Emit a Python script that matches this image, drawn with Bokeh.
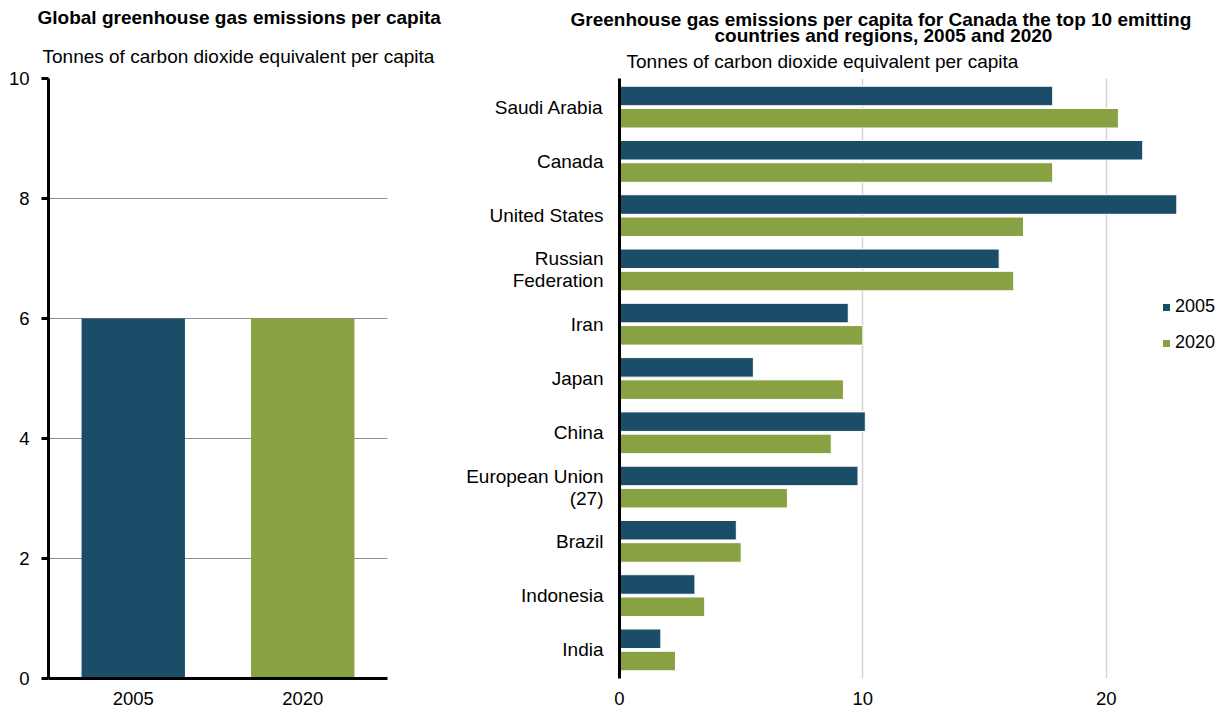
from bokeh.plotting import figure
from bokeh.layouts import row
from bokeh.models import Title, FactorRange, Range1d, FixedTicker, ColumnDataSource
from bokeh.transform import dodge
from bokeh.embed import file_html
from bokeh.resources import INLINE

FONT = "Liberation Sans"
BLUE = "#1B4D68"
GREEN = "#88A243"

# ---- data ----
years = ["2005", "2020"]
global_values = [6.0, 6.0]

countries = ["Saudi Arabia", "Canada", "United States", "Russian\nFederation", "Iran",
             "Japan", "China", "European Union\n(27)", "Brazil", "Indonesia", "India"]
v2005 = [17.8, 21.5, 22.9, 15.6, 9.4, 5.5, 10.1, 9.8, 4.8, 3.1, 1.7]
v2020 = [20.5, 17.8, 16.6, 16.2, 10.0, 9.2, 8.7, 6.9, 5.0, 3.5, 2.3]

left_ticks = [0, 2, 4, 6, 8, 10]
right_ticks = [0, 10, 20]

# ---- left chart ----
p1 = figure(width=455, height=713, x_range=FactorRange(*years, range_padding=0),
            y_range=Range1d(0, 10), output_backend="svg", toolbar_location=None,
            min_border_left=48, min_border_right=68, min_border_bottom=35, min_border_top=0)
p1.outline_line_color = None
p1.vbar(x=years, top=global_values, width=0.61, color=[BLUE, GREEN], line_color=None)
p1.xgrid.grid_line_color = None
p1.ygrid.grid_line_color = "#8c8c8c"
p1.ygrid.grid_line_width = 1
p1.yaxis.ticker = FixedTicker(ticks=left_ticks)
p1.yaxis.minor_tick_line_color = None
p1.yaxis.axis_line_width = 3
p1.yaxis.axis_line_color = "black"
p1.yaxis.major_tick_line_width = 3
p1.yaxis.major_tick_out = 7
p1.yaxis.major_tick_in = 0
p1.yaxis.major_label_standoff = 12
p1.xaxis.axis_line_width = 3
p1.xaxis.axis_line_color = "black"
p1.xaxis.major_tick_line_color = None
p1.xaxis.major_tick_out = 0
p1.xaxis.major_label_standoff = 13
for ax in (p1.xaxis[0], p1.yaxis[0]):
    ax.major_label_text_font = FONT
    ax.major_label_text_font_size = "18.5px"
    ax.major_label_text_color = "black"

p1.add_layout(Title(text="Tonnes of carbon dioxide equivalent per capita", align="left", offset=-6,
                    text_font=FONT, text_font_size="19px", text_font_style="normal",
                    text_color="black", standoff=23), "above")
p1.add_layout(Title(text="Global greenhouse gas emissions per capita", align="left", offset=-11,
                    text_font=FONT, text_font_size="19px", text_font_style="bold",
                    text_color="black", standoff=9), "above")

# ---- right chart ----
src = ColumnDataSource(data=dict(country=countries, v2005=v2005, v2020=v2020))
p2 = figure(width=770, height=713,
            y_range=FactorRange(*list(reversed(countries)), range_padding=0.027,
                                range_padding_units="absolute"),
            x_range=Range1d(0, 24.9), output_backend="svg", toolbar_location=None,
            min_border_left=164, min_border_right=0, min_border_bottom=35, min_border_top=0)
p2.outline_line_color = None
p2.hbar(y=dodge("country", 0.205, range=p2.y_range), right="v2005", height=0.36, source=src,
        fill_color=BLUE, line_color="white", line_width=1, legend_label="2005")
p2.hbar(y=dodge("country", -0.205, range=p2.y_range), right="v2020", height=0.36, source=src,
        fill_color=GREEN, line_color="white", line_width=1, legend_label="2020")
p2.ygrid.grid_line_color = None
p2.xgrid.grid_line_color = "#d4d4d4"
p2.xgrid.grid_line_width = 1.5
p2.xaxis.ticker = FixedTicker(ticks=right_ticks)
p2.xaxis.axis_line_color = None
p2.xaxis.major_tick_line_color = None
p2.xaxis.minor_tick_line_color = None
p2.xaxis.major_tick_out = 0
p2.xaxis.major_label_standoff = 13
p2.xaxis.major_label_text_font_size = "18.5px"
p2.yaxis.axis_line_width = 3
p2.yaxis.axis_line_color = "black"
p2.yaxis.major_tick_line_color = None
p2.yaxis.major_tick_out = 0
p2.yaxis.major_label_standoff = 16
p2.yaxis.major_label_text_font_size = "19px"
p2.yaxis.major_label_text_line_height = 1.05
for ax in (p2.xaxis[0], p2.yaxis[0]):
    ax.major_label_text_font = FONT
    ax.major_label_text_color = "black"

lg = p2.legend[0]
lg.location = (542, 325)
lg.background_fill_alpha = 0
lg.border_line_color = None
lg.padding = 0
lg.margin = 0
lg.glyph_width = 10
lg.glyph_height = 10
lg.label_standoff = 4
lg.label_height = 20
lg.spacing = 15
lg.label_text_font = FONT
lg.label_text_font_size = "18px"
lg.label_text_color = "black"

p2.add_layout(Title(text="Tonnes of carbon dioxide equivalent per capita", align="left", offset=7,
                    text_font=FONT, text_font_size="19px", text_font_style="normal",
                    text_color="black", standoff=14), "above")
p2.add_layout(Title(text="countries and regions, 2005 and 2020", align="left", offset=95,
                    text_font=FONT, text_font_size="19px", text_font_style="bold",
                    text_color="black", standoff=-9), "above")
p2.add_layout(Title(text="Greenhouse gas emissions per capita for Canada the top 10 emitting", align="left",
                    offset=-49, text_font=FONT, text_font_size="19px", text_font_style="bold",
                    text_color="black", standoff=-5), "above")

layout = row(p1, p2, spacing=0)
open("out.html", "w").write(file_html(layout, INLINE))
